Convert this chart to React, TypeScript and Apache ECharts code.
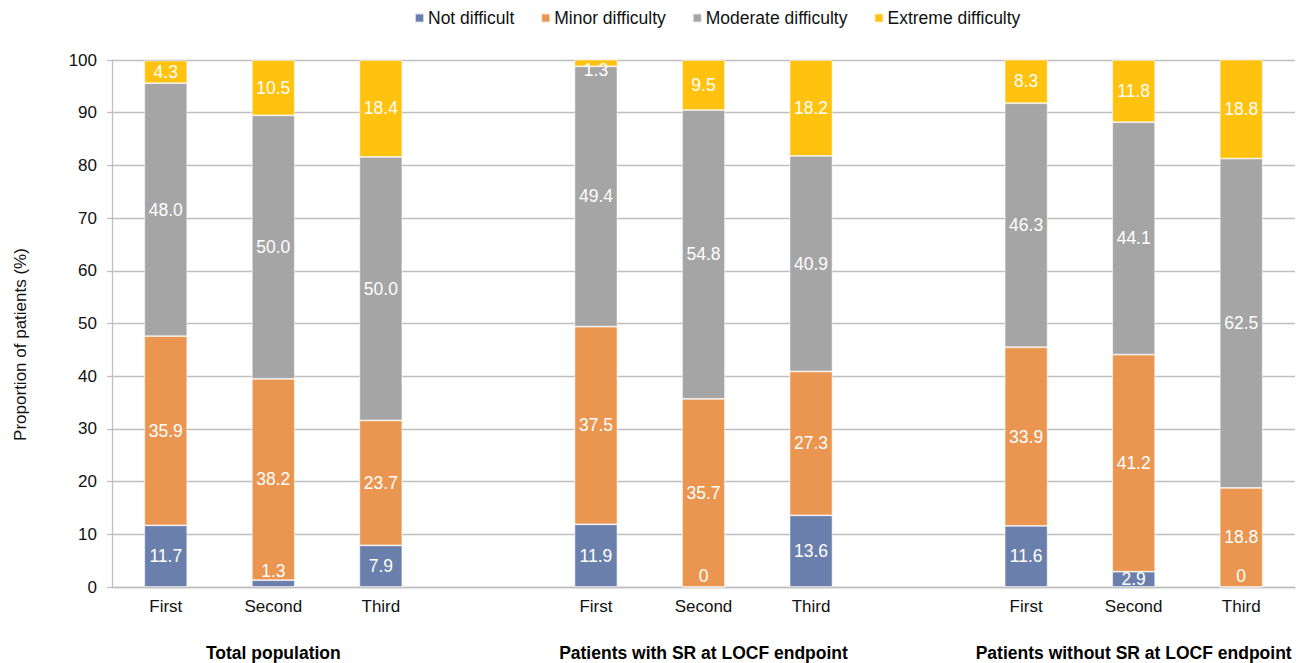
import React, { useEffect, useRef } from "react";
import * as echarts from "echarts";

const categories = ["First", "Second", "Third", "", "First", "Second", "Third", "", "First", "Second", "Third"];
const groupLabels = ["", "Total population", "", "", "", "Patients with SR at LOCF endpoint", "", "", "", "Patients without SR at LOCF endpoint", ""];
const seriesNames = ["Not difficult", "Minor difficulty", "Moderate difficulty", "Extreme difficulty"];

// values per category (gap categories are null)
const notDifficult = [11.7, 1.3, 7.9, null, 11.9, 0, 13.6, null, 11.6, 2.9, 0];
const minorDifficulty = [35.9, 38.2, 23.7, null, 37.5, 35.7, 27.3, null, 33.9, 41.2, 18.8];
const moderateDifficulty = [48.0, 50.0, 50.0, null, 49.4, 54.8, 40.9, null, 46.3, 44.1, 62.5];
const extremeDifficulty = [4.3, 10.5, 18.4, null, 1.3, 9.5, 18.2, null, 8.3, 11.8, 18.8];

const yTicks = [0, 10, 20, 30, 40, 50, 60, 70, 80, 90, 100];

const colors = ["#6A7FAB", "#EA9650", "#A5A5A5", "#FFC20E"];
const FONT = "'Liberation Sans', Arial, sans-serif";

export default function App() {
  const ref = useRef<HTMLDivElement>(null);

  useEffect(() => {
    if (!ref.current) return;
    const chart = echarts.init(ref.current, null, { renderer: "svg" });
    const all = [notDifficult, minorDifficulty, moderateDifficulty, extremeDifficulty];

    const labelFor = (si: number, v: number) => {
      // small-segment label placements as in reference
      if (v === 0) return { position: "insideBottom", distance: 2 };
      if (si === 0 && v < 2) return { position: "insideBottom", distance: 7 };
      if (si === 3 && v < 2) return { position: "insideTop", distance: 1 };
      return undefined;
    };

    const series = all.map((arr, si) => ({
      name: seriesNames[si],
      type: "bar",
      stack: "total",
      barWidth: 43,
      itemStyle: { color: colors[si], borderColor: "rgba(255,255,255,0.7)", borderWidth: 0.8 },
      label: {
        show: true,
        position: "inside",
        color: "#fff",
        fontSize: 17.5,
        fontFamily: FONT,
        formatter: (p: any) => {
          const v = Number(p.value);
          return v === 0 ? "0" : v.toFixed(1);
        },
      },
      data: arr.map((v) => {
        if (v === null) return "-";
        const l = labelFor(si, v);
        return l ? { value: v, label: l } : v;
      }),
    }));

    chart.setOption({
      animation: false,
      textStyle: { fontFamily: FONT },
      legend: {
        data: seriesNames,
        left: 409,
        top: 4,
        itemWidth: 9,
        itemHeight: 9,
        itemGap: 26,
        icon: "rect",
        textStyle: { fontSize: 17.5, color: "#111", fontFamily: FONT, padding: [0, 0, 0, -1] },
      },
      grid: { left: 112, right: 1, top: 60, bottom: 76 },
      xAxis: [
        {
          type: "category",
          data: categories,
          axisTick: { show: false },
          axisLine: { lineStyle: { color: "#BFBFBF", width: 1.3 } },
          axisLabel: { interval: 0, fontSize: 17, color: "#111", margin: 11, fontFamily: FONT },
        },
        {
          type: "category",
          position: "bottom",
          data: groupLabels,
          axisTick: { show: false },
          axisLine: { show: false },
          axisLabel: { interval: 0, fontSize: 17.5, fontWeight: "bold", color: "#000", margin: 57, fontFamily: FONT },
        },
      ],
      yAxis: {
        type: "value",
        min: yTicks[0],
        max: yTicks[yTicks.length - 1],
        interval: 10,
        name: "Proportion of patients (%)",
        nameLocation: "middle",
        nameGap: 83,
        nameTextStyle: { fontSize: 17, color: "#111", fontFamily: FONT, padding: [0, 42, 0, 0] },
        axisLine: { show: true, lineStyle: { color: "#BFBFBF", width: 1.3 } },
        axisTick: { show: true, length: 5, lineStyle: { color: "#BFBFBF", width: 1.3 } },
        splitLine: { lineStyle: { color: "#BFBFBF", width: 1.3 } },
        axisLabel: { fontSize: 17, color: "#111", margin: 15, fontFamily: FONT },
      },
      series,
    });
    return () => chart.dispose();
  }, []);

  return <div ref={ref} style={{ width: 1296, height: 663, position: "absolute", left: 0, top: 0 }} />;
}
